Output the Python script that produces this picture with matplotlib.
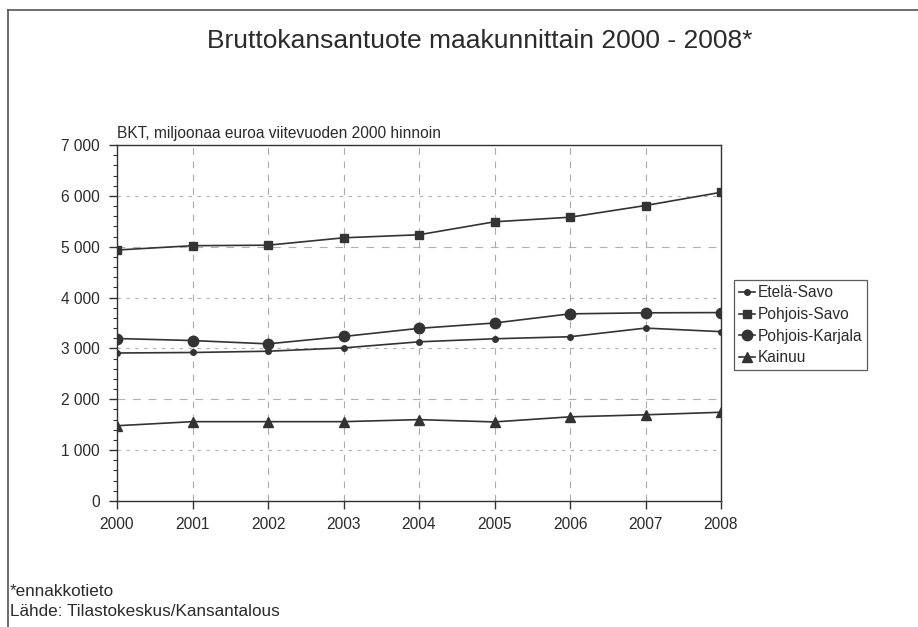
import matplotlib.pyplot as plt
from matplotlib.ticker import MultipleLocator, FuncFormatter
from matplotlib.lines import Line2D

plt.rcParams['font.family'] = ['Liberation Sans', 'DejaVu Sans']

# Data (BKT, milj. euroa, viitevuoden 2000 hinnoin)
years = [2000, 2001, 2002, 2003, 2004, 2005, 2006, 2007, 2008]
etela_savo = [2910, 2920, 2945, 3010, 3130, 3190, 3230, 3400, 3330]
pohjois_savo = [4935, 5020, 5030, 5175, 5235, 5490, 5580, 5810, 6070]
pohjois_karjala = [3195, 3155, 3090, 3235, 3395, 3500, 3680, 3700, 3705]
kainuu = [1480, 1560, 1560, 1560, 1600, 1555, 1655, 1695, 1745]

line_col = '#333333'
text_col = '#2b2b2b'

fig = plt.figure(figsize=(9.18, 6.27), dpi=100)
ax = fig.add_axes([117 / 918, 1 - 501 / 627, 604 / 918, 356 / 627])

ax.plot(years, etela_savo, color=line_col, lw=1.2, marker='o', ms=4, label='Etelä-Savo')
ax.plot(years, pohjois_savo, color=line_col, lw=1.2, marker='s', ms=6, label='Pohjois-Savo')
ax.plot(years, pohjois_karjala, color=line_col, lw=1.2, marker='o', ms=7.5, label='Pohjois-Karjala')
ax.plot(years, kainuu, color=line_col, lw=1.2, marker='^', ms=7.5, label='Kainuu')

ax.set_xlim(2000, 2008)
ax.set_ylim(0, 7000)
ax.set_xticks(years)
ax.yaxis.set_major_locator(MultipleLocator(1000))
ax.yaxis.set_minor_locator(MultipleLocator(200))
ax.yaxis.set_major_formatter(FuncFormatter(lambda v, p: f'{int(v):,}'.replace(',', ' ')))

ax.tick_params(axis='both', which='major', direction='out', length=5.5, width=1,
               color=line_col, labelsize=11.2, labelcolor=text_col)
ax.tick_params(axis='y', which='minor', direction='out', length=3, width=0.8, color=line_col)
ax.tick_params(axis='y', which='major', pad=7)
ax.tick_params(axis='x', pad=6)

# grid: vertical dashed, horizontal fine dotted (2000 and 5000 longer dashes)
ax.xaxis.grid(True, color='#aaaaaa', lw=0.8, linestyle=(0, (6, 6)))
ax.yaxis.grid(True, color='#b0b0b0', lw=0.8, linestyle=(0, (3, 5)))
for val, gl in zip(ax.get_yticks(), ax.get_ygridlines()):
    if val in (2000, 5000):
        gl.set_linestyle((0, (7, 7)))
for sp in ax.spines.values():
    sp.set_color(line_col)
    sp.set_linewidth(1)

ax.text(0.0, 1.01, 'BKT, miljoonaa euroa viitevuoden 2000 hinnoin', transform=ax.transAxes,
        fontsize=11.2, color=text_col, ha='left', va='bottom')

leg = ax.legend(loc='upper left', bbox_to_anchor=(734 / 918, 1 - 280 / 627),
                bbox_transform=fig.transFigure, fontsize=11.2, frameon=True, fancybox=False,
                handlelength=1.0, handletextpad=0.15, borderpad=0.35, labelspacing=0.42,
                borderaxespad=0)
leg.get_frame().set_edgecolor(line_col)
leg.get_frame().set_linewidth(0.9)
for t in leg.get_texts():
    t.set_color(text_col)

fig.text(480 / 918, 1 - 41 / 627, 'Bruttokansantuote maakunnittain 2000 - 2008*',
         fontsize=19, color=text_col, ha='center', va='center')
fig.text(10 / 918, 1 - 592 / 627, '*ennakkotieto', fontsize=12.3, color=text_col, va='center')
fig.text(10 / 918, 1 - 611 / 627, 'Lähde: Tilastokeskus/Kansantalous', fontsize=12.3,
         color=text_col, va='center')

# outer frame (top and left edges visible)
fig.add_artist(Line2D([8 / 918, 1], [1 - 10 / 627, 1 - 10 / 627], color='#555555', lw=1.2,
                      transform=fig.transFigure))
fig.add_artist(Line2D([8 / 918, 8 / 918], [0, 1 - 10 / 627], color='#555555', lw=1.2,
                      transform=fig.transFigure))

fig.savefig('out.png', dpi=100)
